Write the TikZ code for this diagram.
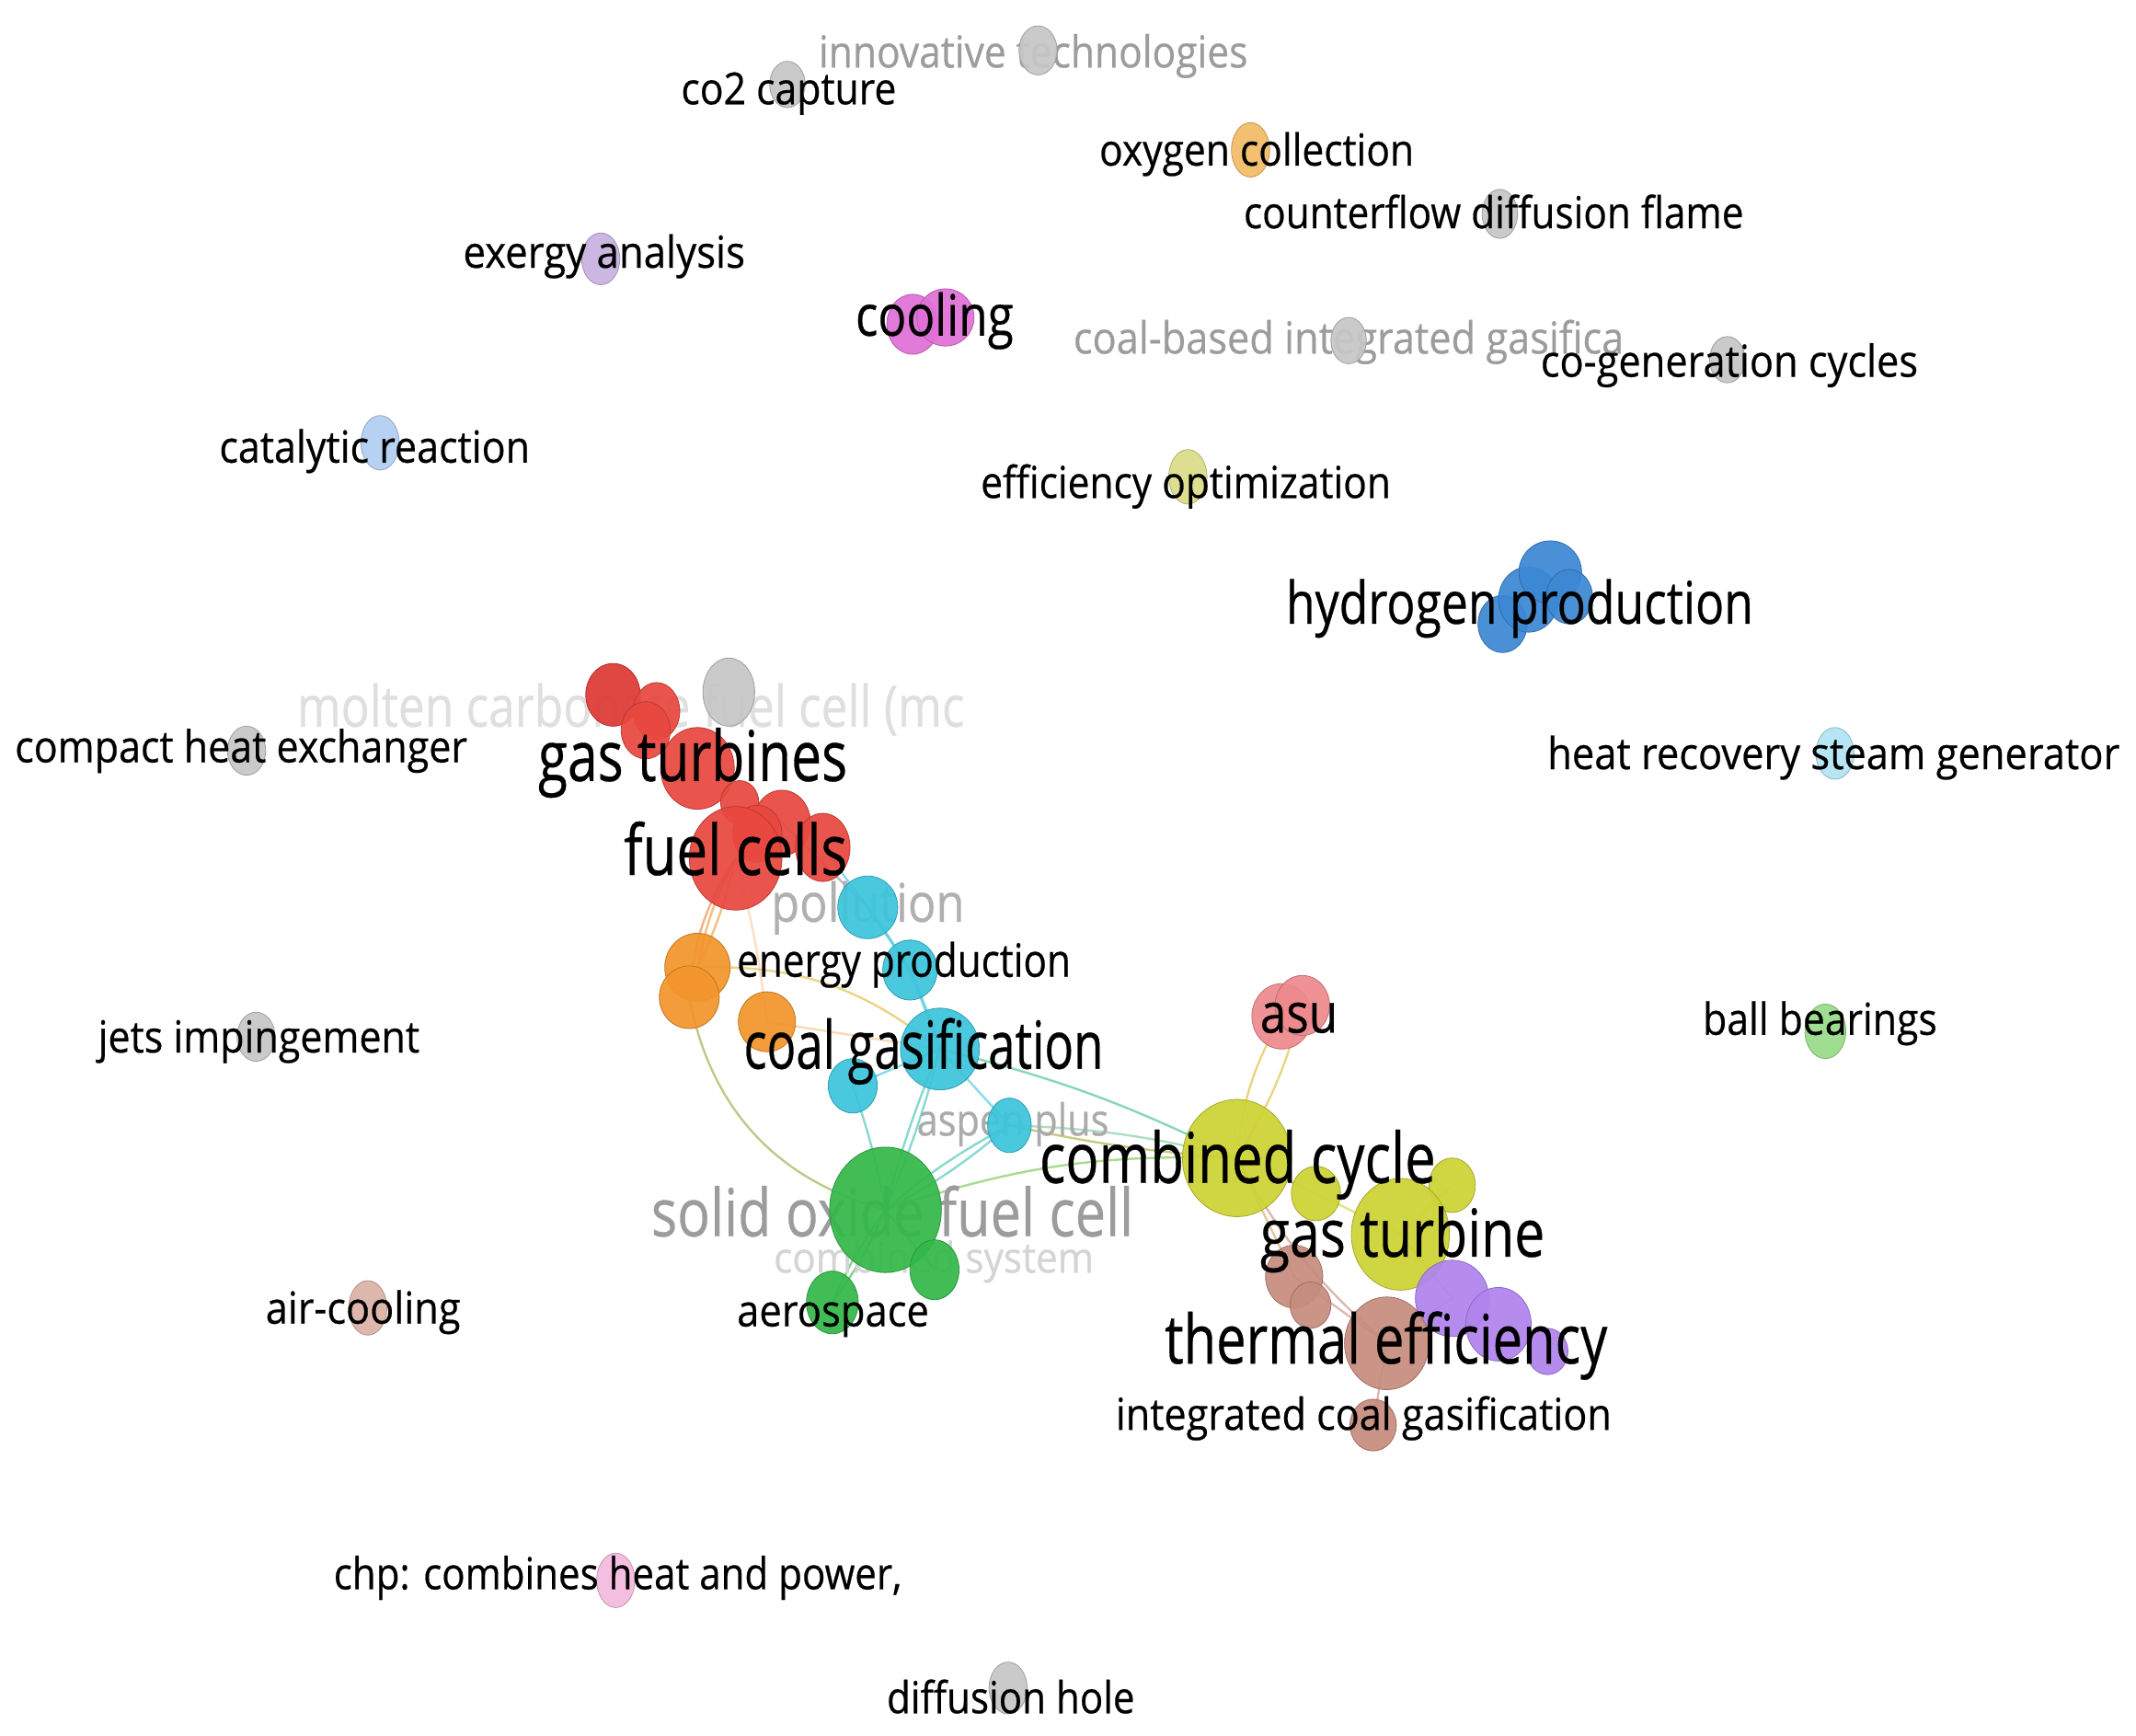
\documentclass[tikz,border=0pt]{standalone}
\usepackage{fontspec}
\setmainfont{Open Sans}
\newfontfamily\labfont[FakeBold=0.5]{Open Sans}
\usetikzlibrary{shapes.geometric}
\newdimen\su \su=1.481pt
\definecolor{cRed}{HTML}{E8483F}
\definecolor{cRedD}{HTML}{DC3A34}
\definecolor{cOrange}{HTML}{F2952C}
\definecolor{cCyan}{HTML}{3CC4DC}
\definecolor{cGreen}{HTML}{34B84A}
\definecolor{cYellow}{HTML}{CDD334}
\definecolor{cAsu}{HTML}{EE8A8E}
\definecolor{cBrown}{HTML}{C68C7E}
\definecolor{cPurple}{HTML}{B084EC}
\definecolor{cBlue}{HTML}{3C88D4}
\definecolor{cGray}{HTML}{C6C6C6}
\definecolor{cOxy}{HTML}{F2BC66}
\definecolor{cExergy}{HTML}{C8B2E0}
\definecolor{cCool}{HTML}{E070D8}
\definecolor{cCat}{HTML}{B2CEF2}
\definecolor{cEff}{HTML}{DCDC88}
\definecolor{cHrsg}{HTML}{B2E4F4}
\definecolor{cBall}{HTML}{98DC88}
\definecolor{cAir}{HTML}{DCB2A6}
\definecolor{cChp}{HTML}{F4BADE}
\definecolor{tGray}{HTML}{9C9C9C}
\definecolor{tLight}{HTML}{D4D4D4}
\pgfdeclarelayer{paper}
\pgfdeclarelayer{bg}
\pgfdeclarelayer{mid}
\pgfdeclarelayer{top}
\pgfsetlayers{paper,bg,mid,main,top}
\tikzset{
  bubble/.style={ellipse, inner sep=0pt, outer sep=0pt, draw=#1!80!black, fill=#1, line width=0.8pt, fill opacity=0.93},
  lab/.style={anchor=mid, inner sep=0pt, outer sep=0pt},
  edge/.style={line width=2.4pt, draw opacity=0.6, line cap=round},
}
% \bub{name}{colour}{(x,y)}{w}{h}
\newcommand\bub[5]{\node[bubble=#2, minimum width={#4*1.481pt}, minimum height={#5*1.481pt}] (#1) at #3 {};}
% \lbl{name}{(x,y)}{text}{size}{colour}{width}
\newcommand\lbl[6]{\node[lab, yshift={-0.3*#4pt}, font=\labfont\fontsize{#4}{#4}\selectfont, text=#5] (#1) at #2 {\resizebox{#6\su}{\height}{#3}};}
\begin{document}
\begin{tikzpicture}[x={(1.481pt,0)}, y={(0,-1.481pt)}]
\begin{pgfonlayer}{paper}
\path[use as bounding box, fill=white] (0,0) rectangle (1568,1274);
\end{pgfonlayer}

% ---------- gray labels (behind bubbles)
\begin{pgfonlayer}{mid}
\lbl{Linnov}{(758.5,38)}{innovative technologies}{48}{tGray}{315}
\lbl{Lcobased}{(990,248)}{coal-based integrated gasifica}{48}{tGray}{404}
\lbl{Lmolten}{(463,519)}{molten carbonate fuel cell (mc}{62}{tLight!75!white}{490}
\lbl{Lpoll}{(637,663)}{pollution}{58}{tGray!80!white}{142}
\lbl{Laspen}{(743.5,822)}{aspen plus}{48}{tGray!85!white}{141}
\lbl{Lsofc}{(655,891)}{solid oxide fuel cell}{72}{tGray}{354}
\lbl{Lcombsys}{(685.5,923)}{combined system}{46}{tLight}{235}
\end{pgfonlayer}

% ---------- isolated bubbles
\bub{Binnov}{cGray}{(762,37)}{28}{36}
\bub{Bco2}{cGray}{(578,62)}{26}{34}
\bub{Boxy}{cOxy}{(918,110)}{28}{40}
\bub{Bcounter}{cGray}{(1101,157)}{26}{36}
\bub{Bexergy}{cExergy}{(441,190)}{28}{38}
\bub{K1}{cCool}{(670,238)}{38}{44}
\bub{K2}{cCool}{(694,233)}{42}{42}
\bub{Bcobased}{cGray}{(990,250)}{26}{34}
\bub{Bcogen}{cGray}{(1268,264)}{26}{34}
\bub{Bcat}{cCat}{(279,325)}{28}{40}
\bub{Beff}{cEff}{(872,350)}{28}{40}
\bub{H3}{cBlue}{(1103,458)}{36}{42}
\bub{H2}{cBlue}{(1122,440)}{44}{48}
\bub{H1}{cBlue}{(1138,420)}{46}{46}
\bub{H4}{cBlue}{(1152,438)}{34}{40}
\bub{Bcompact}{cGray}{(181,551)}{28}{36}
\bub{Bhrsg}{cHrsg}{(1347,553)}{28}{38}
\bub{Bjets}{cGray}{(188,761)}{28}{36}
\bub{Bball}{cBall}{(1340,757)}{30}{40}
\bub{Bair}{cAir}{(270,960)}{28}{40}
\bub{Bchp}{cChp}{(452,1160)}{28}{40}
\bub{Bdiff}{cGray}{(740,1239)}{28}{38}

% ---------- red cluster
\bub{M}{cGray}{(535,508)}{38}{50}
\bub{R1}{cRedD}{(450,510)}{40}{46}
\bub{R9}{cRed}{(482,522)}{34}{42}
\bub{R2}{cRed}{(474,536)}{36}{42}
\bub{R3}{cRed}{(512,564)}{54}{60}
\bub{R4}{cRed}{(543,589)}{28}{32}
\bub{R6}{cRed}{(574,604)}{42}{48}
\bub{R8}{cRed}{(556,612)}{36}{42}
\bub{R7}{cRed}{(604,622)}{40}{50}
\bub{R5}{cRed}{(540,630)}{68}{76}

% ---------- orange cluster
\bub{O1}{cOrange}{(512,710)}{48}{50}
\bub{O2}{cOrange}{(506,732)}{44}{46}
\bub{O3}{cOrange}{(563,750)}{42}{44}

% ---------- cyan cluster
\bub{C1}{cCyan}{(637,666)}{44}{46}
\bub{C2}{cCyan}{(668,712)}{40}{44}
\bub{C3}{cCyan}{(690,770)}{58}{60}
\bub{C4}{cCyan}{(626,797)}{36}{40}
\bub{C5}{cCyan}{(741,826)}{32}{40}

% ---------- green cluster
\bub{G1}{cGreen}{(650,888)}{82}{92}
\bub{G2}{cGreen}{(686,932)}{36}{44}
\bub{G3}{cGreen}{(611,956)}{38}{46}

% ---------- asu
\bub{A1}{cAsu}{(941,746)}{44}{48}
\bub{A2}{cAsu}{(956,738)}{40}{44}

% ---------- yellow cluster
\bub{Y1}{cYellow}{(908,850)}{80}{86}
\bub{Y2}{cYellow}{(966,876)}{36}{40}
\bub{Y4}{cYellow}{(1066,870)}{34}{40}
\bub{Y3}{cYellow}{(1028,906)}{72}{82}

% ---------- brown / purple clusters
\bub{B1}{cBrown}{(950,937)}{42}{46}
\bub{B2}{cBrown}{(962,958)}{30}{34}
\bub{P1}{cPurple}{(1066,953)}{54}{56}
\bub{P2}{cPurple}{(1100,972)}{48}{54}
\bub{P3}{cPurple}{(1136,992)}{30}{34}
\bub{B3}{cBrown}{(1018,986)}{62}{68}
\bub{B4}{cBrown}{(1008,1046)}{34}{38}

% ---------- connectors
\begin{pgfonlayer}{bg}
\draw[edge, cOrange] (R5.center) to[bend right=8] (O1.center);
\draw[edge, cOrange] (R5.center) to[bend left=6] (O1.center);
\draw[edge, cOrange!70!cRed] (R5.center) to[bend right=14] (O2.center);
\draw[edge, cOrange!50!white] (R5.center) to[bend left=4] (O3.center);
\draw[edge, cCyan] (R7.center) -- (C1.center);
\draw[edge, cCyan!70!cRed] (R6.center) -- (C1.center);
\draw[edge, cCyan] (C1.center) -- (C2.center);
\draw[edge, cCyan] (C2.center) -- (C3.center);
\draw[edge, cCyan] (C1.center) to[bend left=10] (C3.center);
\draw[edge, cCyan] (C3.center) -- (C4.center);
\draw[edge, cCyan] (C3.center) -- (C5.center);
\draw[edge, cOrange!60!white] (O3.center) -- (C3.center);
\draw[edge, cOrange!40!cYellow] (O1.center) to[bend left=20] (C3.center);
\draw[edge, cOrange!50!cGreen] (O2.center) to[bend right=32] (G1.center);
\draw[edge, cCyan!70!cGreen] (C4.center) to[bend left=4] (G1.center);
\draw[edge, cCyan!70!cGreen] (C3.center) to[bend left=4] (G1.center);
\draw[edge, cCyan!70!cGreen] (C3.center) to[bend right=4] (G1.center);
\draw[edge, cCyan!70!cGreen] (C5.center) to[bend left=6] (G1.center);
\draw[edge, cCyan!70!cGreen] (C5.center) to[bend right=6] (G1.center);
\draw[edge, cGreen!60!cYellow] (G1.center) to[bend left=10] (Y1.center);
\draw[edge, cCyan!60!cYellow] (C5.center) to[bend left=6] (Y1.center);
\draw[edge, cYellow!80!black] (C5.center) to[bend right=4] (Y1.center);
\draw[edge, cGreen!60!cCyan] (C3.center) to[bend left=6] (Y1.center);
\draw[edge, cOrange!40!cYellow] (Y1.center) to[bend left=12] (A1.center);
\draw[edge, cOrange!40!cYellow] (Y1.center) to[bend right=8] (A2.center);
\draw[edge, cYellow] (Y1.center) -- (Y2.center);
\draw[edge, cYellow] (Y2.center) -- (Y3.center);
\draw[edge, cYellow] (Y3.center) -- (Y4.center);
\draw[edge, cBrown!60!cYellow] (Y1.center) -- (B1.center);
\draw[edge, cBrown] (Y1.center) to[bend right=10] (B3.center);
\draw[edge, cBrown] (B1.center) -- (B3.center);
\draw[edge, cBrown] (B3.center) -- (B4.center);
\draw[edge, cPurple] (B3.center) -- (P1.center);
\draw[edge, cPurple!60!cYellow] (Y3.center) -- (P1.center);
\draw[edge, cGreen] (G1.center) to[bend left=6] (G3.center);
\draw[edge, cGreen] (G1.center) to[bend right=6] (G3.center);
\draw[edge, cGreen] (G1.center) -- (G2.center);
\end{pgfonlayer}

% ---------- black labels (on top)
\begin{pgfonlayer}{top}
\lbl{Lco2}{(579,65)}{co2 capture}{48}{black}{158}
\lbl{Loxy}{(922.5,110)}{oxygen collection}{48}{black}{231}
\lbl{Lcounter}{(1096.5,156)}{counterflow diffusion flame}{48}{black}{367}
\lbl{Lexergy}{(443.5,185)}{exergy analysis}{48}{black}{207}
\lbl{Lcool}{(686,232)}{cooling}{62}{black}{116}
\lbl{Lcogen}{(1269.5,265)}{co-generation cycles}{48}{black}{277}
\lbl{Lcat}{(275,328)}{catalytic reaction}{48}{black}{228}
\lbl{Leff}{(870.5,354)}{efficiency optimization}{48}{black}{301}
\lbl{Lhyd}{(1115.5,443)}{hydrogen production}{64}{black}{343}
\lbl{Lcompact}{(177,548)}{compact heat exchanger}{48}{black}{332}
\lbl{Lgts}{(508.5,556)}{gas turbines}{76}{black}{227}
\lbl{Lhrsg}{(1346,553)}{heat recovery steam generator}{48}{black}{420}
\lbl{Lfc}{(540,625)}{fuel cells}{76}{black}{164}
\lbl{Lenergy}{(663.5,705)}{energy production}{50}{black}{245}
\lbl{Ljets}{(190,761)}{jets impingement}{48}{black}{236}
\lbl{Lasu}{(953.5,744)}{asu}{60}{black}{57}
\lbl{Lball}{(1336,748)}{ball bearings}{48}{black}{172}
\lbl{Lcg}{(678,768)}{coal gasification}{72}{black}{264}
\lbl{Lcc}{(908.5,851)}{combined cycle}{76}{black}{291}
\lbl{Lgt}{(1029.5,906)}{gas turbine}{72}{black}{209}
\lbl{Laero}{(611.5,962)}{aerospace}{48}{black}{141}
\lbl{Lair}{(266.5,960)}{air-cooling}{48}{black}{143}
\lbl{Lte}{(1017.5,984)}{thermal efficiency}{74}{black}{325}
\lbl{Licg}{(1001,1038)}{integrated coal gasification}{48}{black}{364}
\lbl{Lchp}{(453.5,1155)}{chp: combines heat and power,}{48}{black}{417}
\lbl{Ldiff}{(742,1246)}{diffusion hole}{48}{black}{182}
\end{pgfonlayer}
\end{tikzpicture}
\end{document}
